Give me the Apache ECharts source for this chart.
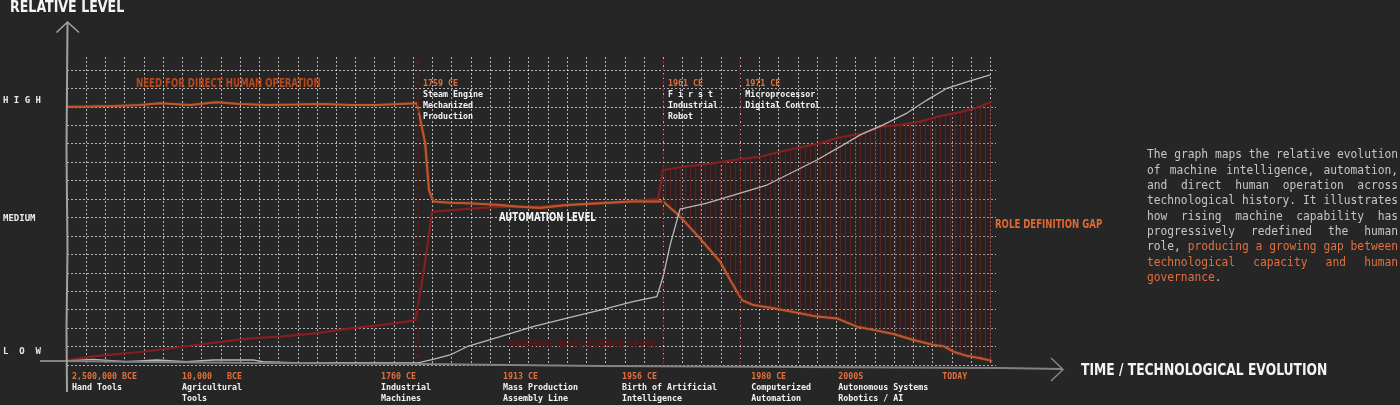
<!DOCTYPE html>
<html>
<head>
<meta charset="utf-8">
<title>Role definition gap</title>
<script src="https://cdn.jsdelivr.net/npm/echarts@6.0.0/dist/echarts.min.js"></script>
<style>
html,body{margin:0;padding:0;background:#262626;overflow:hidden}
#chart{width:1400px;height:405px}
</style>
</head>
<body>
<div id="chart"></div>
<script>
// ---------------- DATA ----------------
// x: relative position along the technological timeline (1 unit = 1 grid column)
// y: relative level (0 = bottom line, 100 = top grid line)
const humanOperation = [
  [0,87.5],[1.2,87.6],[2.5,87.8],[3.8,88.1],[4.84,88.7],[6.4,88.1],[7.78,89.1],[8.99,88.5],
  [10.38,88.1],[11.86,88.3],[13.31,88.5],[14.72,88.1],[16.1,88.1],[17.32,88.5],[18.19,88.7],
  [18.62,75.3],[18.82,59.3],[19.05,55.4],[19.92,55.0],[20.79,54.8],[21.63,54.6],[22.52,54.2],
  [23.39,53.7],[24.6,53.2],[25.99,54.2],[27.72,54.8],[29.43,55.4],[30.99,55.4],[31.87,50.3],
  [32.83,43.5],[33.96,35.0],[34.48,28.8],[35.09,22.0],[35.69,20.3],[36.73,19.2],[37.77,18.0],
  [38.99,16.4],[40.03,15.8],[41.07,13.0],[41.93,11.9],[42.97,10.5],[44.01,8.5],[45.05,6.8],
  [45.57,6.4],[46.09,4.5],[46.79,3.1],[47.48,2.3],[48.1,1.4]
];
const automationLevel = [
  [0,1.7],[1.72,3.2],[3.95,4.5],[5.88,6.1],[7.59,7.5],[9.52,9.0],[11.23,9.7],[13.0,10.8],
  [14.72,12.4],[16.43,13.6],[18.1,15.1],[18.3,22.0],[18.62,34.9],[18.98,51.9],[20.79,52.9],
  [22.52,53.6],[24.23,53.6],[25.99,54.2],[27.72,54.9],[29.43,55.6],[30.73,56.3],[30.99,66.1],
  [32.03,67.2],[33.27,68.1],[35.0,69.8],[36.04,70.6],[37.08,72.3],[38.12,73.8],[39.16,75.2],
  [40.2,77.2],[41.24,78.3],[42.28,80.8],[43.32,81.4],[44.36,82.5],[45.4,84.4],[46.44,85.7],
  [47.48,87.6],[48.1,89.3]
];
const machineIntelligence = [
  [0,1.4],[1.35,1.9],[3.1,1.1],[4.66,1.7],[6.22,1.1],[7.59,1.7],[9.67,1.7],[10.19,1.1],
  [12.12,0.7],[14.72,0.8],[18.25,0.7],[19.03,1.9],[19.92,3.4],[20.79,6.2],[22.52,9.6],
  [24.23,13.0],[25.99,15.9],[27.72,18.6],[29.43,21.5],[30.67,23.2],[30.99,29.9],[31.36,40.7],
  [31.87,52.8],[33.27,54.9],[35.0,58.3],[36.39,61.0],[37.95,66.1],[38.99,69.5],[40.2,74.0],
  [41.24,78.0],[42.43,81.4],[43.67,85.4],[44.71,89.8],[45.75,93.8],[46.79,96.0],[48.0,98.3]
];
const gapStartX = 30.99;

const eventX = [18.25, 30.99, 35.0];
const eventYear = ['1759 CE', '1961 CE', '1971 CE'];
const eventText = [
  ['Steam Engine', 'Mechanized', 'Production'],
  ['F i r s t', 'Industrial', 'Robot'],
  ['Microprocessor', 'Digital Control']
];

const milestoneX = [0.26, 5.98, 16.33, 22.67, 28.86, 35.57, 40.1, 45.5];
const milestoneYear = ['2,500,000 BCE', '10,000   BCE', '1760 CE', '1913 CE', '1956 CE', '1980 CE', '2000S', 'TODAY'];
const milestoneText = [
  ['Hand Tools'], ['Agricultural', 'Tools'], ['Industrial', 'Machines'],
  ['Mass Production', 'Assembly Line'], ['Birth of Artificial', 'Intelligence'],
  ['Computerized', 'Automation'], ['Autonomous Systems', 'Robotics / AI'], []
];

const levelValues = [4.4, 49.5, 89.5];
const levelLabels = ['L  O  W', 'MEDIUM', 'H I G H'];

const descLines = [
  'The graph maps the relative evolution',
  'of machine intelligence, automation,',
  'and direct human operation across',
  'technological history. It illustrates',
  'how rising machine capability has',
  'progressively redefined the human',
  'role, {producing a growing gap between',
  '{technological capacity and human',
  '{governance}.'
];

// ---------------- STYLE ----------------
const BG = '#262626';
const ORANGE_TXT = '#e2703c';
const ORANGE_LINE = '#c0572c';
const RED_LINE = '#861f1f';
const GRAY_LINE = '#b9b9b9';
const MONO = '"DejaVu Sans Mono", monospace';
const NARROW = '"Liberation Sans Narrow", "DejaVu Sans Condensed", sans-serif';
const NX = 0.83; // horizontal condensing for heading font

const X_MAX = 48.3, Y_MAX = 104.4;

function findIdx(arr, v) { return arr.findIndex(a => Math.abs(a - v) < 1e-6); }

// hatch pattern for the gap
const hatch = document.createElement('canvas');
hatch.width = 5; hatch.height = 4;
const hc = hatch.getContext('2d');
hc.fillStyle = 'rgba(60,18,18,0.18)'; hc.fillRect(0, 0, 5, 4);
hc.fillStyle = 'rgba(125,35,35,0.55)'; hc.fillRect(0, 0, 1, 4);

// paragraph (justified)
const DESC_X = 1147, DESC_W = 251, DESC_Y = 155, DESC_LH = 15.35, SX = 0.9;
const DESC_FONT = '12.5px ' + MONO;
const mctx = document.createElement('canvas').getContext('2d');
mctx.font = DESC_FONT;
const descEls = [];
let orangeOn = false;
descLines.forEach((line, i) => {
  const words = line.split(' ').map(w => {
    const segs = []; let cur = '';
    for (const ch of w) {
      if (ch === '{' || ch === '}') { if (cur) segs.push({t: cur, o: orangeOn}); cur = ''; orangeOn = ch === '{'; }
      else cur += ch;
    }
    if (cur) segs.push({t: cur, o: orangeOn});
    const width = segs.reduce((s, g) => s + mctx.measureText(g.t).width * SX, 0);
    return {segs, width};
  });
  const justify = i < descLines.length - 1 && words.length > 1;
  const total = words.reduce((s, w) => s + w.width, 0);
  const gap = justify ? (DESC_W - total) / (words.length - 1) : mctx.measureText(' ').width * SX;
  const y = DESC_Y + i * DESC_LH;
  let x = DESC_X;
  words.forEach(w => {
    let sx = x;
    w.segs.forEach(g => {
      descEls.push({type: 'text', x: sx, y: y, scaleX: SX, silent: true,
        style: {text: g.t, font: DESC_FONT, fill: g.o ? ORANGE_TXT : '#c6c6c6', verticalAlign: 'middle'}});
      sx += mctx.measureText(g.t).width * SX;
    });
    x += w.width + gap;
  });
});

const chart = echarts.init(document.getElementById('chart'), null, {renderer: 'canvas'});

const gridLine = {show: true, showMinLine: false, showMaxLine: false,
  lineStyle: {color: 'rgba(235,235,235,0.72)', type: [2, 2], width: 1}};

function heading(text, x, y, size, fill, sx) {
  return {type: 'text', x: x, y: y, scaleX: sx, silent: true, z: 20,
    style: {text: text, font: 'bold ' + size + 'px ' + NARROW, fill: fill, verticalAlign: 'middle'}};
}

const option = {
  backgroundColor: BG,
  animation: false,
  grid: {left: 67, right: 404, top: 57, bottom: 40, outerBoundsMode: 'none', containLabel: false},
  xAxis: [
    {
      type: 'value', min: 0, max: X_MAX, interval: 1,
      axisLine: {show: false}, axisTick: {show: false},
      splitLine: gridLine,
      axisLabel: {
        customValues: milestoneX,
        margin: 6, align: 'left', verticalAlign: 'top',
        formatter: v => {
          const i = findIdx(milestoneX, v);
          if (i < 0) return '';
          return '{y|' + milestoneYear[i] + '}' + milestoneText[i].map(t => '\n{w|' + t + '}').join('');
        },
        rich: {
          y: {color: ORANGE_TXT, fontFamily: MONO, fontWeight: 'bold', fontSize: 8.3, lineHeight: 11},
          w: {color: '#f2f2f2', fontFamily: MONO, fontWeight: 'bold', fontSize: 8.3, lineHeight: 11}
        }
      }
    },
    {
      type: 'value', position: 'top', min: 0, max: X_MAX, interval: 1,
      axisLine: {show: false}, axisTick: {show: false}, splitLine: {show: false},
      axisLabel: {
        customValues: eventX, inside: true,
        margin: 21, align: 'left', verticalAlign: 'top', padding: [0, 0, 0, 5],
        formatter: v => {
          const i = findIdx(eventX, v);
          if (i < 0) return '';
          return '{y|' + eventYear[i] + '}' + eventText[i].map(t => '\n{w|' + t + '}').join('');
        },
        rich: {
          y: {color: ORANGE_TXT, fontFamily: MONO, fontWeight: 'bold', fontSize: 8.3, lineHeight: 11},
          w: {color: '#f2f2f2', fontFamily: MONO, fontWeight: 'bold', fontSize: 8.3, lineHeight: 11}
        }
      }
    }
  ],
  yAxis: {
    type: 'value', min: 0, max: Y_MAX, interval: 6.25,
    axisLine: {show: false}, axisTick: {show: false},
    splitLine: {show: true, showMinLine: true, showMaxLine: false,
      lineStyle: {color: 'rgba(235,235,235,0.72)', type: [2, 2], width: 1}},
    axisLabel: {
      customValues: levelValues, margin: 64, align: 'left',
      color: '#ececec', fontFamily: MONO, fontWeight: 'bold', fontSize: 9,
      formatter: v => { const i = findIdx(levelValues, v); return i < 0 ? '' : levelLabels[i]; }
    }
  },
  series: [
    {
      name: 'Role definition gap', type: 'custom', silent: true, z: 1,
      data: [[gapStartX, 0]],
      renderItem: (params, api) => {
        const top = automationLevel.filter(p => p[0] >= gapStartX).map(p => api.coord(p));
        const bot = humanOperation.filter(p => p[0] >= gapStartX).map(p => api.coord(p)).reverse();
        return {type: 'polygon', shape: {points: top.concat(bot)},
          style: {fill: {image: hatch, repeat: 'repeat'}, stroke: null}};
      }
    },
    {
      name: 'Automation level', type: 'line', data: automationLevel, showSymbol: false, symbol: 'none',
      z: 3, lineStyle: {color: RED_LINE, width: 2.2}, silent: true,
      markLine: {
        silent: true, symbol: ['none', 'none'], label: {show: false},
        lineStyle: {color: '#6a1818', type: [4, 3], width: 1.6},
        data: eventX.map(x => ({xAxis: x}))
      }
    },
    {
      name: 'Need for direct human operation', type: 'line', data: humanOperation, showSymbol: false,
      symbol: 'none', z: 4, silent: true,
      lineStyle: {color: ORANGE_LINE, width: 2, shadowColor: 'rgba(194,88,43,0.5)', shadowBlur: 2}
    },
    {
      name: 'Machine intelligence level', type: 'line', data: machineIntelligence, showSymbol: false,
      symbol: 'none', z: 5, silent: true,
      lineStyle: {color: GRAY_LINE, width: 1.3}
    }
  ],
  graphic: [
    // hand-drawn axes
    {type: 'polyline', silent: true, z: 10, shape: {points: [[40,361],[67,361],[150,362],[260,363],[420,364],[600,366],[800,367],[1000,368],[1062,369]]},
      style: {stroke: '#828282', lineWidth: 2, fill: null}},
    {type: 'polyline', silent: true, z: 10, shape: {points: [[1051,358],[1063,369.5],[1051,381]]},
      style: {stroke: '#828282', lineWidth: 1.6, fill: null}},
    {type: 'polyline', silent: true, z: 10, shape: {points: [[67,392],[66.5,330],[67.5,250],[66.5,150],[67.5,23]]},
      style: {stroke: '#a2a2a2', lineWidth: 2, fill: null}},
    {type: 'polyline', silent: true, z: 10, shape: {points: [[56.5,32.5],[67.5,22],[79,32.5]]},
      style: {stroke: '#a2a2a2', lineWidth: 1.6, fill: null}},
    // titles & in-chart labels
    heading('RELATIVE LEVEL', 10, 8, 16.5, '#f4f4f4', 0.85),
    heading('TIME / TECHNOLOGICAL EVOLUTION', 1081, 371, 16.5, '#f4f4f4', NX),
    heading('NEED FOR DIRECT HUMAN OPERATION', 136, 84, 11.5, '#b9481f', NX),
    heading('AUTOMATION LEVEL', 499, 218, 11.5, '#f4f4f4', NX),
    heading('ROLE DEFINITION GAP', 995, 225, 11.5, '#e0692e', NX),
    heading('MACHINE INTELLIGENCE LEVEL', 508, 345, 11.5, '#5c1616', NX)
  ].concat(descEls)
};
chart.setOption(option);
</script>
</body>
</html>
